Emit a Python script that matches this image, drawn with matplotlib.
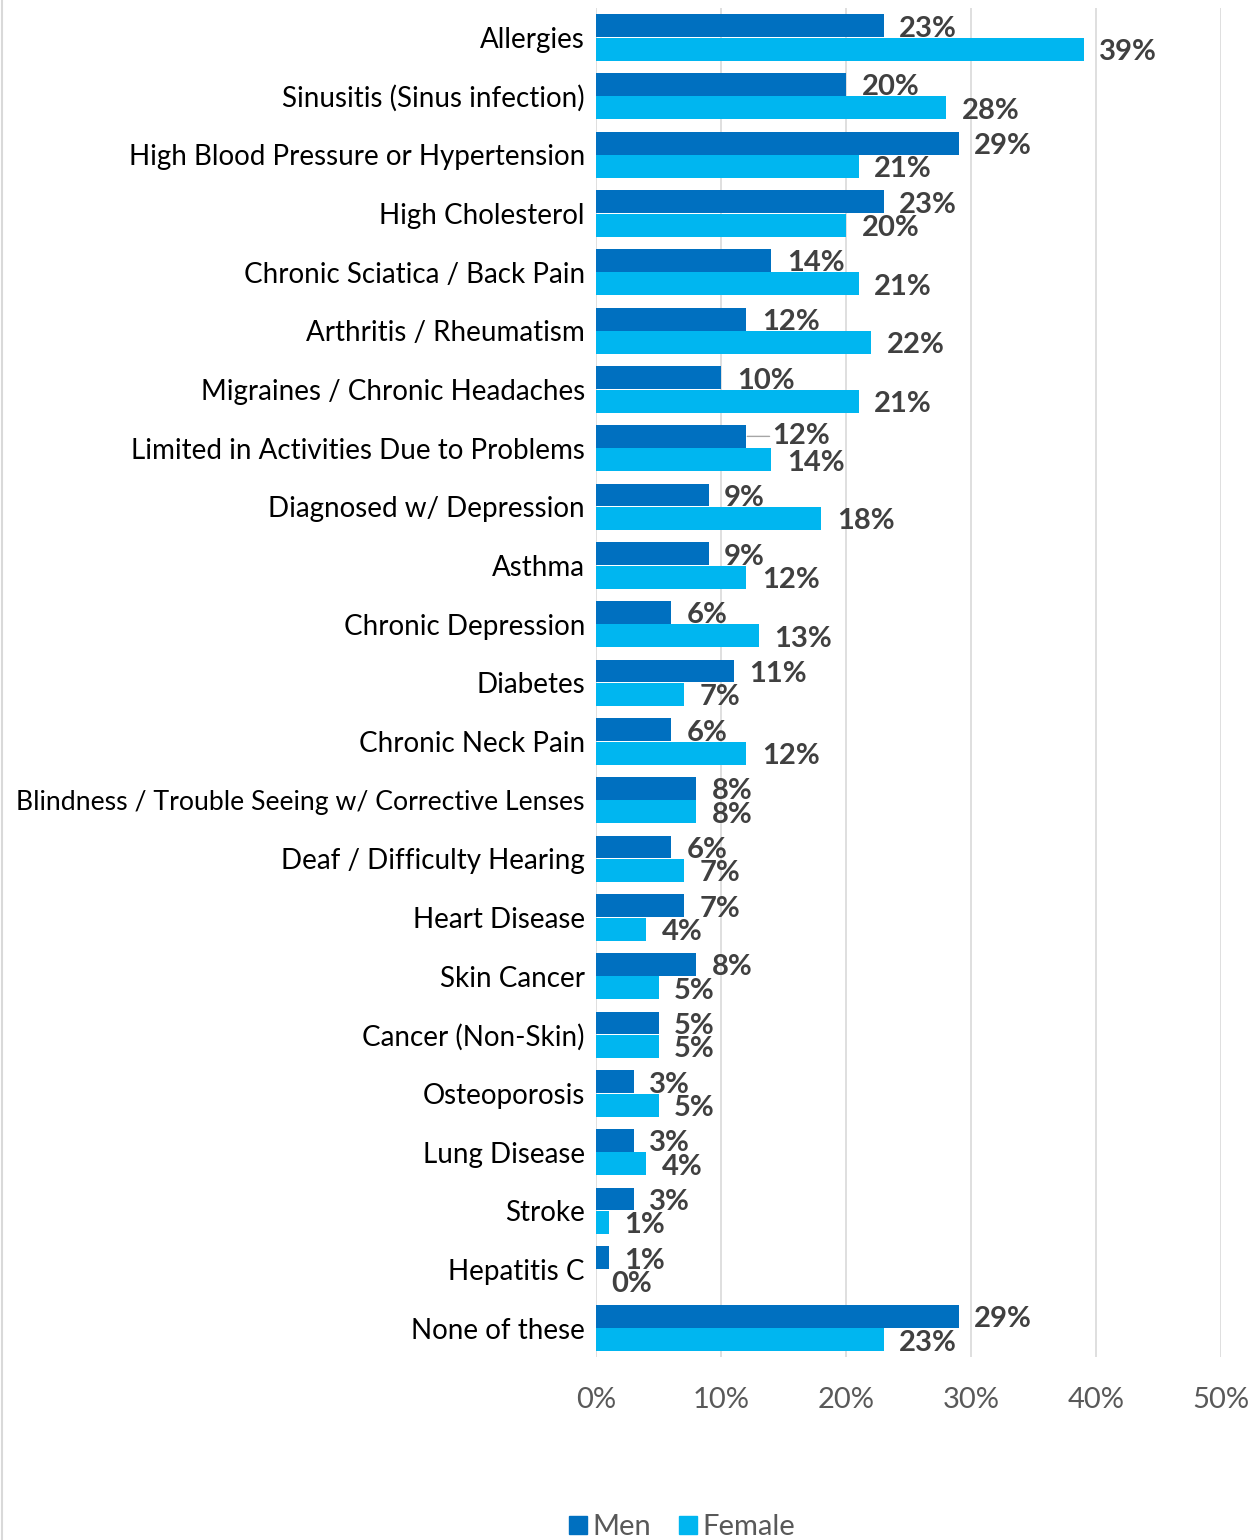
import numpy as np
import matplotlib.pyplot as plt
from matplotlib.lines import Line2D

conditions = ["Allergies", "Sinusitis (Sinus infection)", "High Blood Pressure or Hypertension",
              "High Cholesterol", "Chronic Sciatica / Back Pain", "Arthritis / Rheumatism",
              "Migraines / Chronic Headaches", "Limited in Activities Due to Problems",
              "Diagnosed w/ Depression", "Asthma", "Chronic Depression", "Diabetes",
              "Chronic Neck Pain", "Blindness / Trouble Seeing w/ Corrective Lenses",
              "Deaf / Difficulty Hearing", "Heart Disease", "Skin Cancer", "Cancer (Non-Skin)",
              "Osteoporosis", "Lung Disease", "Stroke", "Hepatitis C", "None of these"]
men = [23, 20, 29, 23, 14, 12, 10, 12, 9, 9, 6, 11, 6, 8, 6, 7, 8, 5, 3, 3, 3, 1, 29]
female = [39, 28, 21, 20, 21, 22, 21, 14, 18, 12, 13, 7, 12, 8, 7, 4, 5, 5, 5, 4, 1, 0, 23]
xticks = [0, 10, 20, 30, 40, 50]

MEN_C = "#0070C0"
FEM_C = "#00B6F0"
LABEL_C = "#404040"

plt.rcParams["font.family"] = ["Lato", "DejaVu Sans"]

fig = plt.figure(figsize=(12.57, 15.40), dpi=100)
ax = fig.add_axes([0.4742, 0.1186, 0.4972, 0.8761])

y = np.arange(len(conditions))
h = 0.39
ax.barh(y - 0.2, men, height=h, color=MEN_C, label="Men", zorder=3)
ax.barh(y + 0.2, female, height=h, color=FEM_C, label="Female", zorder=3)

ax.set_xlim(0, 50)
ax.set_ylim(len(conditions) - 0.5, -0.5)
ax.set_xticks(xticks)
ax.set_xticklabels([f"{t}%" for t in xticks], fontsize=21, color="#595959")
ax.set_yticks(y)
ax.set_yticklabels(conditions, fontsize=20, color="black")
ax.tick_params(axis="y", length=0, pad=8)
ax.tick_params(axis="x", length=0, pad=21)
# the longest category name is set a bit smaller so it fits
for lab in ax.get_yticklabels():
    if lab.get_text().startswith("Blindness"):
        lab.set_fontsize(19.2)
ax.grid(axis="x", color="#D9D9D9", linewidth=1.2, zorder=0)
for s in ax.spines.values():
    s.set_visible(False)

# value labels just past the bar ends
off = 1.25
for i, (m, f) in enumerate(zip(men, female)):
    if conditions[i].startswith("Limited"):
        ax.annotate(f"{m}%", xy=(m + 0.1, i - 0.2), xytext=(m + 2.1, i - 0.2),
                    fontsize=21, fontweight="bold", color=LABEL_C, va="center",
                    arrowprops=dict(arrowstyle="-", color="#A6A6A6", lw=1,
                                    shrinkA=0, shrinkB=0))
    else:
        ax.text(m + off, i - 0.15, f"{m}%", fontsize=21, fontweight="bold",
                color=LABEL_C, va="center")
    ax.text(f + off, i + 0.25, f"{f}%", fontsize=21, fontweight="bold",
            color=LABEL_C, va="center")

handles = [Line2D([], [], marker="s", linestyle="none", markersize=13, color=MEN_C),
           Line2D([], [], marker="s", linestyle="none", markersize=13, color=FEM_C)]
fig.legend(handles, ["Men", "Female"], loc="center", ncol=2,
           bbox_to_anchor=(680 / 1257, 1 - 1527 / 1540), frameon=False,
           fontsize=21, labelcolor="#595959", handletextpad=0.05,
           columnspacing=0.8, handlelength=0.9)

# thin chart border on the left edge
fig.add_artist(Line2D([0.0012, 0.0012], [0, 1], color="#D9D9D9", linewidth=1.5,
                      transform=fig.transFigure))

fig.savefig("out.png", dpi=100)
